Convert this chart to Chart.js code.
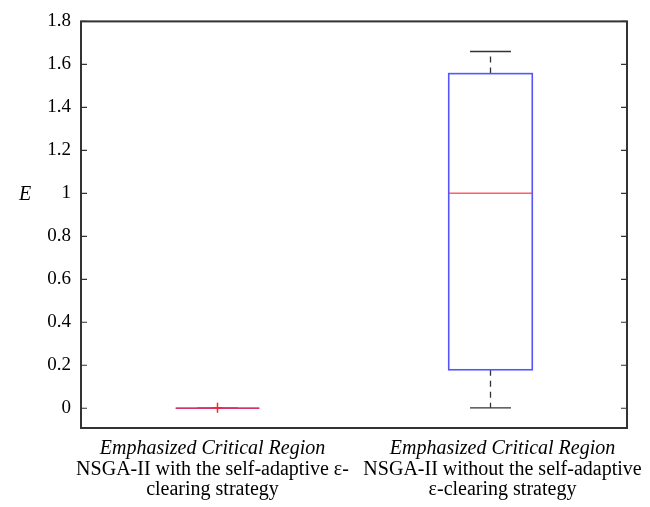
<!DOCTYPE html>
<html>
<head>
<meta charset="utf-8">
<script src="https://cdn.jsdelivr.net/npm/chart.js@4/dist/chart.umd.min.js"></script>
<style>
  html, body { margin: 0; padding: 0; background: #fff; }
  #wrap { width: 650px; height: 507px; }
</style>
</head>
<body>
<div id="wrap"><canvas id="boxChart" width="650" height="507"></canvas></div>
<script>
// box positions on the x axis and their labels (first line italic)
const positions = [1, 2];
const labelLines = [
    ['Emphasized Critical Region', 'NSGA-II with the self-adaptive ε-', 'clearing strategy'],
    ['Emphasized Critical Region', 'NSGA-II without the self-adaptive', 'ε-clearing strategy']
];

// box statistics
const whiskerLow = [0, 0.002];
const quartile1 = [0, 0.179];
const medians = [0, 1.0];
const quartile3 = [0, 1.557];
const whiskerHigh = [0, 1.66];
const outlierX = [1];
const outlierY = [0.002];

// y axis ticks
const yTicks = [0, 0.2, 0.4, 0.6, 0.8, 1, 1.2, 1.4, 1.6, 1.8];
const yTickLabels = ['0', '0.2', '0.4', '0.6', '0.8', '1', '1.2', '1.4', '1.6', '1.8'];

const boxHalf = 0.153;
const capHalf = 0.075;
const labelShift = [-5, 12];

const boxPlugin = {
    id: 'boxPlugin',
    beforeDatasetsDraw(chart) {
        const ctx = chart.ctx;
        const xs = chart.scales.x, ys = chart.scales.y;
        ctx.save();
        positions.forEach((p, i) => {
            const xl = xs.getPixelForValue(p - boxHalf);
            const xr = xs.getPixelForValue(p + boxHalf);
            const xc = xs.getPixelForValue(p);
            const cl = xs.getPixelForValue(p - capHalf);
            const cr = xs.getPixelForValue(p + capHalf);
            const yLo = ys.getPixelForValue(whiskerLow[i]);
            const yQ1 = ys.getPixelForValue(quartile1[i]);
            const yMed = ys.getPixelForValue(medians[i]);
            const yQ3 = ys.getPixelForValue(quartile3[i]);
            const yHi = ys.getPixelForValue(whiskerHigh[i]);

            // whiskers
            ctx.strokeStyle = '#333';
            ctx.lineWidth = 1.3;
            ctx.setLineDash([6, 5]);
            ctx.beginPath();
            ctx.moveTo(xc, yQ3); ctx.lineTo(xc, yHi);
            ctx.moveTo(xc, yQ1); ctx.lineTo(xc, yLo);
            ctx.stroke();
            ctx.setLineDash([]);
            ctx.beginPath();
            ctx.moveTo(cl, yHi); ctx.lineTo(cr, yHi);
            ctx.moveTo(cl, yLo); ctx.lineTo(cr, yLo);
            ctx.stroke();

            // box
            ctx.strokeStyle = '#5555ff';
            ctx.lineWidth = 1.6;
            ctx.strokeRect(xl, yQ3, xr - xl, yQ1 - yQ3);

            // median
            ctx.strokeStyle = 'rgba(255,40,60,0.75)';
            ctx.lineWidth = 1.6;
            ctx.beginPath();
            ctx.moveTo(xl, yMed); ctx.lineTo(xr, yMed);
            ctx.stroke();
        });
        ctx.restore();
    },
    afterDraw(chart) {
        const ctx = chart.ctx;
        const a = chart.chartArea;
        const xs = chart.scales.x, ys = chart.scales.y;
        ctx.save();
        // frame
        ctx.strokeStyle = '#333';
        ctx.lineWidth = 2;
        ctx.strokeRect(a.left, a.top, a.right - a.left, a.bottom - a.top);
        // inner tick marks left and right
        ctx.lineWidth = 1.2;
        ctx.beginPath();
        yTicks.forEach(v => {
            const y = ys.getPixelForValue(v);
            ctx.moveTo(a.left, y); ctx.lineTo(a.left + 6, y);
            ctx.moveTo(a.right, y); ctx.lineTo(a.right - 6, y);
        });
        ctx.stroke();

        // y title
        ctx.fillStyle = '#000';
        ctx.font = 'italic 20px "Liberation Serif"';
        ctx.textAlign = 'center';
        ctx.textBaseline = 'middle';
        ctx.fillText('E', 25, ys.getPixelForValue(1) + 1);

        // x category labels
        ctx.textBaseline = 'alphabetic';
        const baselines = [454, 475, 495];
        positions.forEach((p, i) => {
            const xc = xs.getPixelForValue(p) + labelShift[i];
            labelLines[i].forEach((line, j) => {
                ctx.font = (j === 0 ? 'italic ' : '') + '20px "Liberation Serif"';
                ctx.fillText(line, xc, baselines[j]);
            });
        });
        ctx.restore();
    }
};

new Chart(document.getElementById('boxChart').getContext('2d'), {
    type: 'scatter',
    data: {
        datasets: [{
            label: 'outliers',
            data: outlierX.map((x, i) => ({ x: x, y: outlierY[i] })),
            pointStyle: 'cross',
            radius: 5,
            borderColor: '#ff2030',
            borderWidth: 1.5,
            backgroundColor: '#ff2030'
        }]
    },
    options: {
        responsive: false,
        animation: false,
        layout: { padding: { top: 20, right: 23, left: 0, bottom: 0 } },
        plugins: {
            legend: { display: false },
            tooltip: { enabled: false }
        },
        scales: {
            x: {
                type: 'linear',
                min: 0.5,
                max: 2.5,
                grid: { display: false },
                border: { display: false },
                ticks: { display: false },
                afterFit: scale => { scale.height = 79; }
            },
            y: {
                min: -0.092,
                max: 1.8,
                grid: { display: false, drawTicks: false },
                border: { display: false },
                afterBuildTicks: scale => {
                    scale.ticks = yTicks.map(v => ({ value: v }));
                },
                ticks: {
                    padding: 10,
                    color: '#000',
                    font: { family: 'Liberation Serif', size: 19 },
                    callback: (v) => yTickLabels[yTicks.indexOf(v)]
                },
                afterFit: scale => { scale.width = 81; }
            }
        }
    },
    plugins: [boxPlugin]
});
</script>
</body>
</html>
